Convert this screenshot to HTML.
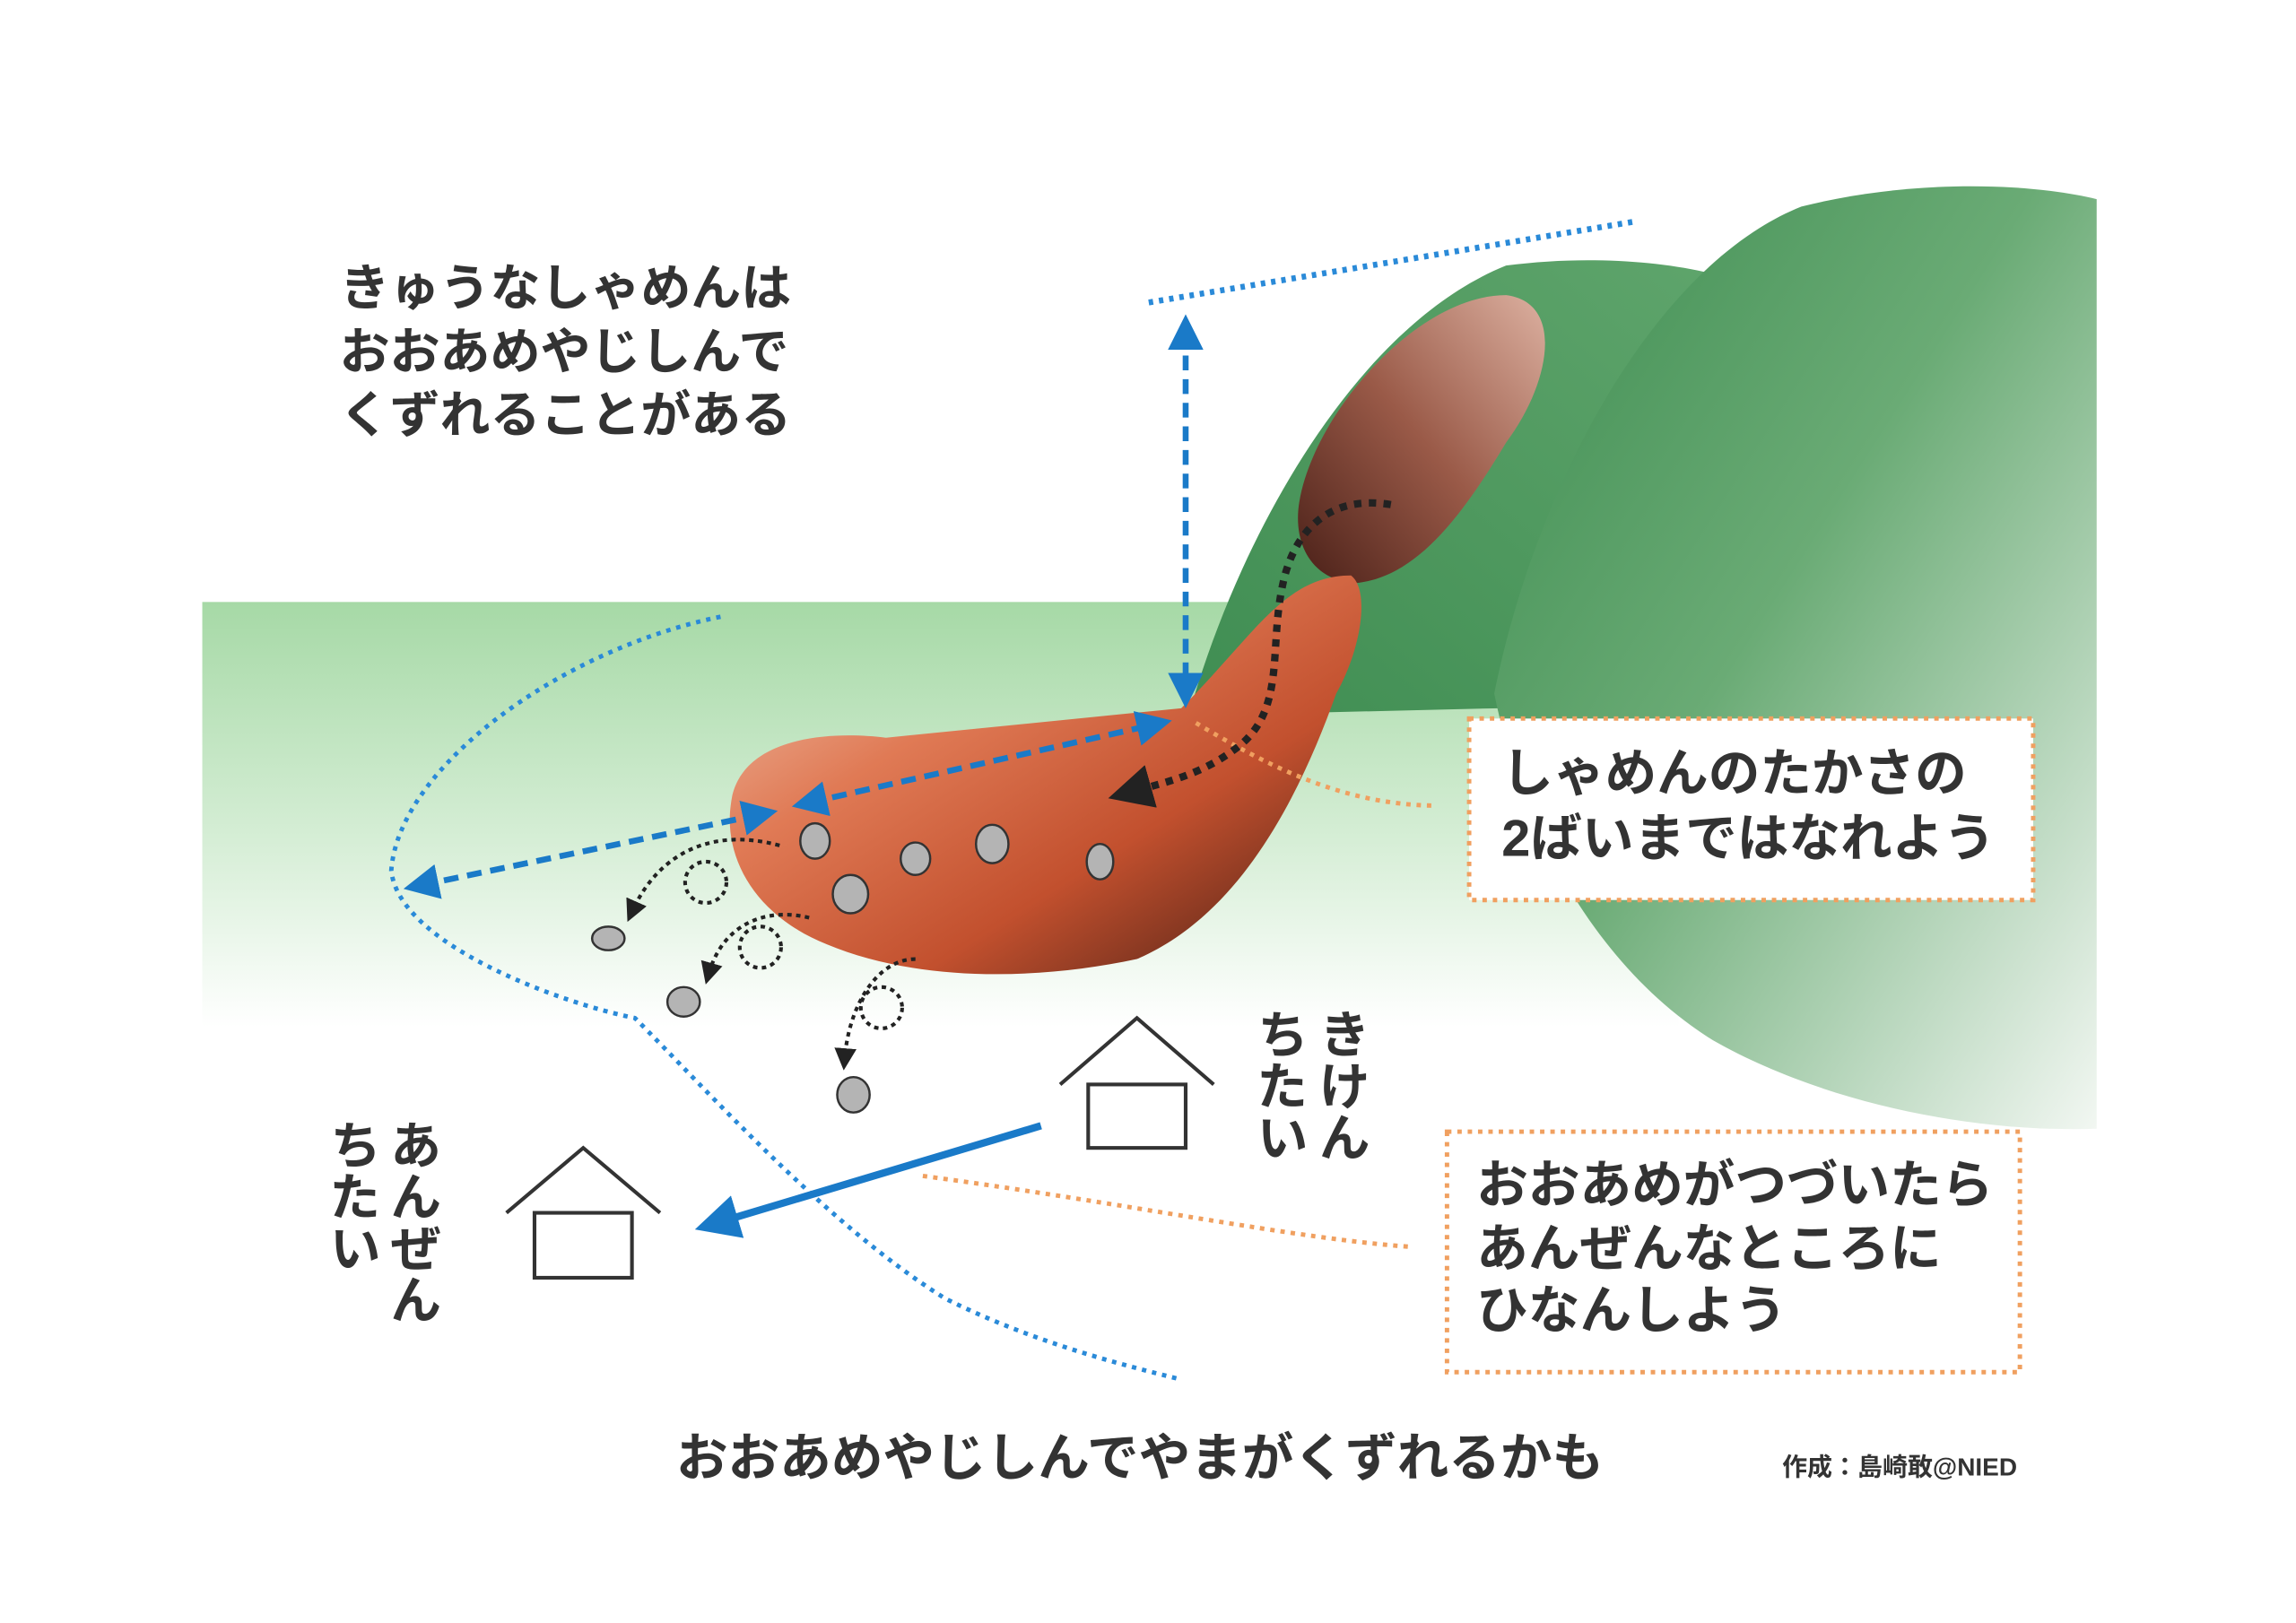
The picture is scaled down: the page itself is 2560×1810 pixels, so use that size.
<!DOCTYPE html>
<html><head><meta charset="utf-8"><style>
html,body{margin:0;padding:0;background:#fff;}
svg{display:block;}
text{font-family:"Liberation Sans","Noto Sans CJK JP",sans-serif;font-weight:bold;fill:#333;}
</style></head><body>
<svg width="2560" height="1810" viewBox="0 0 1555 1100" preserveAspectRatio="none" xmlns="http://www.w3.org/2000/svg">
<defs>
<linearGradient id="band" x1="0" y1="0" x2="0" y2="1">
<stop offset="0" stop-color="#a6d9a6"/><stop offset="0.45" stop-color="#d6eed6"/><stop offset="0.8" stop-color="#ffffff"/></linearGradient>
<linearGradient id="hillF" x1="0" y1="0" x2="1" y2="1">
<stop offset="0" stop-color="#3d8c50"/><stop offset="0.45" stop-color="#6aab75"/><stop offset="1" stop-color="#f2f7f2"/></linearGradient>
<linearGradient id="hillB" x1="0" y1="1" x2="1" y2="0">
<stop offset="0" stop-color="#3f8d52"/><stop offset="1" stop-color="#5fa56c"/></linearGradient>
<linearGradient id="slide" x1="0" y1="0" x2="1" y2="1">
<stop offset="0" stop-color="#f1cdb8"/><stop offset="0.35" stop-color="#e07a55"/><stop offset="0.65" stop-color="#c2502e"/><stop offset="1" stop-color="#3e1a12"/></linearGradient>
<linearGradient id="lobe" x1="1" y1="0" x2="0" y2="1">
<stop offset="0" stop-color="#dcb0a0"/><stop offset="0.5" stop-color="#9a5a48"/><stop offset="1" stop-color="#4a2018"/></linearGradient>
<marker id="bh" markerWidth="6" markerHeight="6" refX="3" refY="3" orient="auto-start-reverse" markerUnits="strokeWidth"><path d="M0,0 L6,3 L0,6 Z" fill="#1a7ac8"/></marker>
<marker id="kh" markerWidth="6" markerHeight="6" refX="3" refY="3" orient="auto" markerUnits="strokeWidth"><path d="M0,0 L6,3 L0,6 Z" fill="#222"/></marker>
</defs>
<rect x="137" y="408" width="1000" height="360" fill="url(#band)"/>
<path d="M805,485 C840,360 920,220 1020,180 C1080,172 1140,178 1175,190 L1100,300 L1015,480 Z" fill="url(#hillB)"/>
<path d="M1012,470 C1040,330 1120,180 1220,140 C1300,120 1380,125 1420,135 L1420,765 C1330,768 1230,745 1160,705 C1080,655 1030,560 1012,470 Z" fill="url(#hillF)"/>
<path d="M880,340 C890,280 960,200 1020,200 C1060,205 1050,260 1020,300 C990,350 960,390 920,395 C890,395 875,370 880,340 Z" fill="url(#lobe)"/>
<path d="M495,545 C500,500 560,495 600,500 L800,480 C850,430 870,390 915,390 C928,400 922,440 905,470 C880,540 840,620 770,650 C700,665 620,665 560,640 C510,620 490,580 495,545 Z" fill="url(#slide)"/>
<path d="M488,418 C380,440 270,520 265,590 C270,640 380,680 430,690 C480,740 560,830 640,880 C700,910 760,925 800,935" fill="none" stroke="#2a8ad8" stroke-width="3" stroke-dasharray="3,4"/>
<line x1="778" y1="205" x2="1108" y2="150" stroke="#2a8ad8" stroke-width="4" stroke-dasharray="3,4"/>
<line x1="803" y1="225" x2="803" y2="468" stroke="#1a7ac8" stroke-width="4" stroke-dasharray="10,6" marker-start="url(#bh)" marker-end="url(#bh)"/>
<line x1="548" y1="544" x2="782" y2="491" stroke="#1a7ac8" stroke-width="4" stroke-dasharray="10,6" marker-start="url(#bh)" marker-end="url(#bh)"/>
<line x1="285" y1="600" x2="515" y2="552" stroke="#1a7ac8" stroke-width="4" stroke-dasharray="10,6" marker-start="url(#bh)" marker-end="url(#bh)"/>
<line x1="705" y1="763" x2="485" y2="829" stroke="#1a7ac8" stroke-width="5" marker-end="url(#bh)"/>
<path d="M810,490 C860,520 910,545 970,546" fill="none" stroke="#f0a060" stroke-width="3" stroke-dasharray="3,4"/>
<path d="M625,797 C760,815 880,840 955,845" fill="none" stroke="#f0a060" stroke-width="3" stroke-dasharray="3,4"/>
<path d="M942,342 C900,335 875,360 868,400 C860,440 870,480 840,505 C815,525 790,530 765,537" fill="none" stroke="#222" stroke-width="5" stroke-dasharray="5,5" marker-end="url(#kh)"/>
<g fill="none" stroke="#222" stroke-width="2.5" stroke-dasharray="3,3">
<path d="M528,573 C480,560 445,580 428,618" marker-end="url(#kh)"/>
<circle cx="478" cy="598" r="14"/>
<path d="M548,622 C520,615 490,625 480,660" marker-end="url(#kh)"/>
<circle cx="515" cy="642" r="14"/>
<path d="M620,650 C595,650 575,680 572,718" marker-end="url(#kh)"/>
<circle cx="597" cy="683" r="14"/>
</g>
<g fill="#b4b4b4" stroke="#333" stroke-width="1.5">
<ellipse cx="552" cy="570" rx="10" ry="12"/><ellipse cx="620" cy="582" rx="10" ry="11"/>
<ellipse cx="672" cy="572" rx="11" ry="13"/><ellipse cx="745" cy="584" rx="9" ry="12"/>
<ellipse cx="576" cy="606" rx="12" ry="13"/><ellipse cx="412" cy="636" rx="11" ry="8"/>
<ellipse cx="463" cy="679" rx="11" ry="10"/><ellipse cx="578" cy="742" rx="11" ry="12"/>
</g>
<g fill="#fff" stroke="#333" stroke-width="2.5">
<path d="M718,735 L770,690 L822,735"/><rect x="737" y="735" width="66" height="43"/>
<path d="M343,822 L395,778 L447,822"/><rect x="362" y="822" width="66" height="44"/>
</g>
<rect x="995" y="487" width="382" height="123" fill="#fff" stroke="#f0a060" stroke-width="3" stroke-dasharray="3,4"/>
<rect x="980" y="767" width="388" height="163" fill="#fff" stroke="#f0a060" stroke-width="3" stroke-dasharray="3,4"/>
<g font-size="34">
<text x="230" y="207">きゅうなしゃめんは</text>
<text x="230" y="250">おおあめやじしんで</text>
<text x="230" y="293">くずれることがある</text>
</g>
<g font-size="35">
<text x="1017" y="536">しゃめんのたかさの</text>
<text x="1017" y="580">2ばいまではなれよう</text>
<text x="1000" y="815">おおあめがつづいたら</text>
<text x="1000" y="858">あんぜんなところに</text>
<text x="1000" y="900">ひなんしよう</text>
<text x="458" y="1000">おおあめやじしんでやまがくずれるかも</text>
</g>
<text x="1207" y="1000" font-size="17" font-weight="normal">作成：島崎敢@NIED</text>
<g font-size="35" style="writing-mode:vertical-rl">
<text x="907" y="683">きけん</text>
<text x="865" y="683">ちたい</text>
<text x="278" y="758">あんぜん</text>
<text x="237" y="758">ちたい</text>
</g>
</svg>
</body></html>
